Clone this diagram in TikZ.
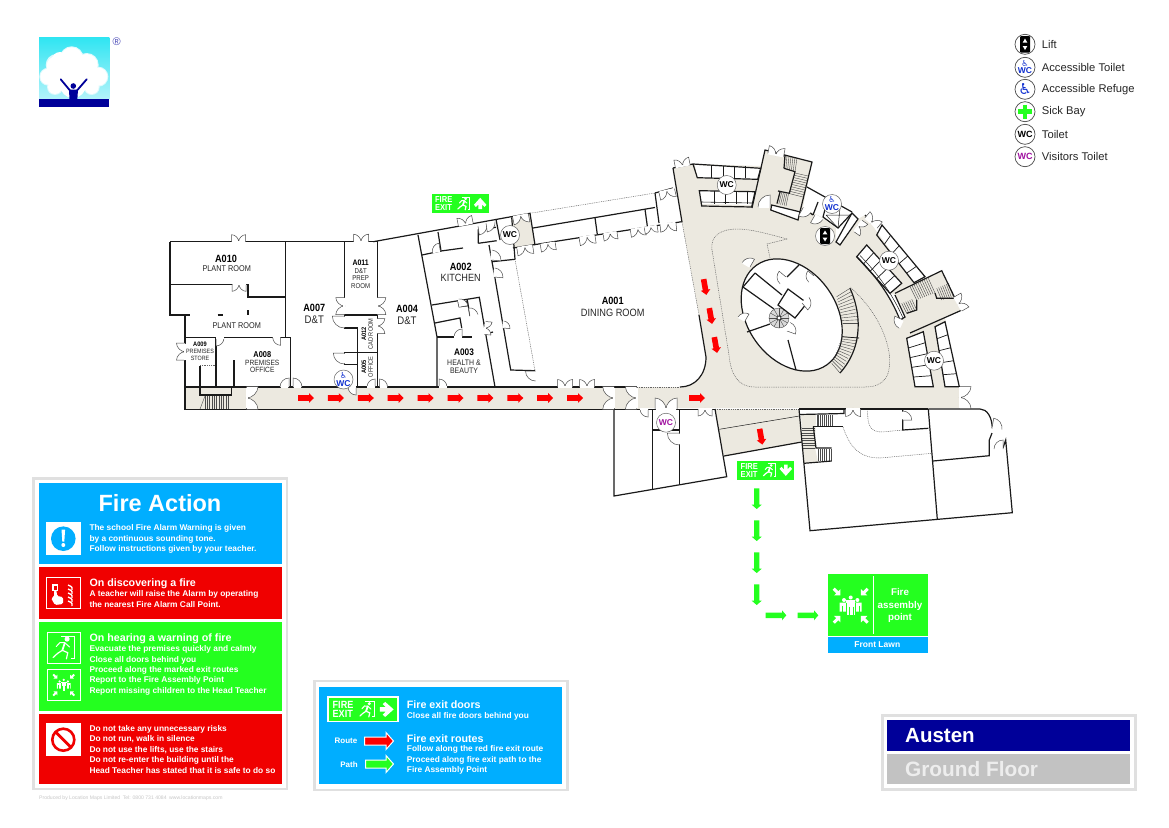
\documentclass[tikz,border=0pt]{standalone}
\usepackage{fontspec}
\usetikzlibrary{calc}
\setmainfont{Liberation Sans}
\newfontfamily\cnd[FakeStretch=0.87]{Liberation Sans}
\newfontfamily\djv{DejaVu Sans}
\definecolor{beige}{HTML}{ECE9E0}
\definecolor{sgreen}{HTML}{24FF1F}
\definecolor{sblue}{HTML}{00AEFF}
\definecolor{sred}{HTML}{F00000}
\definecolor{navy}{HTML}{000099}
\definecolor{wallc}{HTML}{1A1A1A}
\definecolor{framec}{HTML}{E0E0E0}
\definecolor{acblue}{HTML}{1030D0}
\definecolor{vispurple}{HTML}{A010A0}
\definecolor{skytop}{HTML}{2FE5F2}
\definecolor{skybot}{HTML}{B5F3FA}
\newcommand{\myfs}[1]{\fontsize{#1}{#1}\selectfont}
\tikzset{
 wall/.style={draw=wallc,line width=1.2pt,line join=miter},
 thinw/.style={draw=wallc,line width=.5pt},
 dotw/.style={draw=black!60,line width=.5pt,dash pattern=on .9pt off .9pt},
 doorln/.style={draw=black!70,line width=.5pt},
 rung/.style={draw=black!70,line width=.4pt},
 rmid/.style={font=\cnd\bfseries\myfs{10.5},text=black,inner sep=0pt},
 rmname/.style={font=\cnd\myfs{8.4},text=black!85,inner sep=0pt,align=center},
 rmbig/.style={font=\cnd\myfs{11},text=black!85,inner sep=0pt},
 leg/.style={font=\myfs{11.2},text=black!85,inner sep=0pt,anchor=west},
 pan/.style={font=\bfseries\myfs{8.35},text=white,inner sep=0pt,anchor=west},
 panh/.style={font=\bfseries\myfs{10.7},text=white,inner sep=0pt,anchor=west},
 badge/.style={circle,draw=black!60,fill=white,line width=.5pt,minimum size=19pt,inner sep=0pt},
 lgbadge/.style={circle,draw=black!70,fill=white,line width=.7pt,minimum size=20pt,inner sep=0pt},
}
\newcommand{\myDbl}[4]{\begin{scope}[shift={(#1,#2)},rotate=#3,scale=#4/7]
 \fill[white] (-7,0)--(-7,7) .. controls (-3.5,7) and (0,3.5) .. (0,0) .. controls (0,3.5) and (3.5,7) .. (7,7)--(7,0)--cycle;
 \draw[doorln] (-7,0)--(-7,7) .. controls (-3.5,7) and (0,3.5) .. (0,0) .. controls (0,3.5) and (3.5,7) .. (7,7)--(7,0);
 \draw[white,line width=1.7pt] (-6.5,0)--(6.5,0);
\end{scope}}
\newcommand{\mySgl}[4]{\begin{scope}[shift={(#1,#2)},rotate=#3,xscale=#4,yscale=abs(#4)]
 \fill[white] (0,0)--(0,1) .. controls (.55,1) and (1,.55) .. (1,0)--cycle;
 \draw[doorln] (0,0)--(0,1) .. controls (.55,1) and (1,.55) .. (1,0);
 \draw[white,line width=1.7pt] (.06,0)--(.94,0);
\end{scope}}
\newcommand{\myArr}[4]{\begin{scope}[shift={(#1,#2)},rotate=#3]
 \fill[#4] (-8,-2.8)--(3,-2.8)--(3,-4.8)--(8,0)--(3,4.8)--(3,2.8)--(-8,2.8)--cycle;
\end{scope}}
\newcommand{\myGrn}[3]{\begin{scope}[shift={(#1,#2)},rotate=#3]
 \fill[sgreen] (-10.3,-2.7)--(6,-2.7)--(6,-5)--(10.3,0)--(6,5)--(6,2.7)--(-10.3,2.7)--cycle;
\end{scope}}
\newcommand{\myStairs}[5]{\foreach \i in {0,...,#5}{\draw[rung] ($#1!{\i/#5}!#2$)--($#4!{\i/#5}!#3$);}}
\newcommand{\myRunner}[3]{\begin{scope}[shift={(#1,#2)},scale=#3]
 \draw[white,line width=.9pt] (-1.5,-6.8)--(6.3,-6.8)--(6.3,6.6)--(4.5,6.6);
 \fill[white] (2,-5) circle (1.5);
 \draw[white,line width=1.8pt,line cap=round] (.6,-2.6)--(-.8,1.6);
 \draw[white,line width=1pt,line cap=round] (-4.4,-.6)--(-2.2,-3)--(.6,-2.9)--(3.4,-.4);
 \draw[white,line width=1.2pt,line cap=round] (-.8,1.6)--(-3.6,3.4)--(-6.2,5.8) (-.8,1.6)--(2.4,3)--(1.6,6.6);
\end{scope}}
\newcommand{\myWArr}[4]{\begin{scope}[shift={(#1,#2)},rotate=#3,scale=#4]
 \fill[white] (-6,-1.9)--(-.9,-1.9)--(-3.6,-4.6)--(-1.4,-6.6)--(6,0)--(-1.4,6.6)--(-3.6,4.6)--(-.9,1.9)--(-6,1.9)--cycle;
\end{scope}}
\newcommand{\myExit}[6]{\begin{scope}[shift={(#1,#2)},scale=#4]
 \fill[sgreen] (0,0) rectangle (57,19);
 \node[font=\cnd\bfseries\myfs{8.7},text=white,inner sep=0pt,anchor=west,transform shape] (#5) at (3.2,5.6) {FIRE};
 \node[font=\cnd\bfseries\myfs{8.7},text=white,inner sep=0pt,anchor=west,transform shape] (#6) at (3.2,13.4) {EXIT};
 \myRunner{32}{9.5}{.95}
 \myWArr{48.5}{9.5}{#3}{.95}
\end{scope}}
\newcommand{\myAssem}[3]{\begin{scope}[shift={(#1,#2)},scale=#3]
 \foreach \a in {45,135,225,315}{\begin{scope}[rotate=\a]
  \fill[white] (14.5,0)--(19,-4.5)--(19,-1.5)--(24,-1.5)--(24,1.5)--(19,1.5)--(19,4.5)--cycle;
 \end{scope}}
 \fill[white] (-6.7,-5.7) circle (2) (6.7,-5.7) circle (2) (0,-8.2) circle (2);
 \fill[white] (-11,-3)--(-2.5,-3)--(-2.5,6)--(-11,6)--cycle (2.5,-3)--(11,-3)--(11,6)--(2.5,6)--cycle;
 \fill[white] (-4.6,-5.4) rectangle (4.6,9.5);
 \draw[sgreen,line width=.4pt] (-4.6,-3)--(-4.6,9.5) (4.6,-3)--(4.6,9.5) (-2,1)--(-2,9.5) (2,1)--(2,9.5) (-8.5,0)--(-8.5,6) (8.5,0)--(8.5,6);
\end{scope}}
\newcommand{\myAcc}[5]{\node[#5] (#1) at (#2,#3) {};
 \node[text=acblue,font=\djv\myfs{8},inner sep=0pt] (#1w) at (#2,#3-4.2) {♿};
 \node[text=acblue,font=\bfseries\myfs{8.5},inner sep=0pt] (#1t) at (#2,#3+3.6) {WC};}
\begin{document}
\begin{tikzpicture}[x=1pt,y=-1pt]
\useasboundingbox (0,0) rectangle (1169,827);
\fill[white] (0,0) rectangle (1169,827);

% ---------- logo
\shade[top color=skytop,bottom color=skybot] (39,37.3) rectangle (109.3,99.5);
\fill[navy] (39,99.3) rectangle (109.3,107.3);
\fill[white!55!skybot] (71.7,58.3) circle (12) (56.7,65) circle (11) (86.7,65) circle (12) (48.3,76.7) circle (9) (98.3,76.7) circle (10) (63,73) circle (13) (80,73) circle (14) (55,87) circle (8) (91.7,87) circle (8);
\fill[white] (71.7,58.3) circle (11) (60,60) circle (8) (56.7,66) circle (10) (86.7,65) circle (11) (48.3,76.7) circle (8) (98.3,76.7) circle (9) (63,73) circle (12) (80,73) circle (13) (55,87) circle (7) (91.7,87) circle (7) (73,85) circle (13);
\fill[navy] (73.3,86) circle (2.8);
\draw[navy,line width=1.8pt,line cap=round] (60.7,79.3)--(70,90.5) (86.7,79.3)--(77,90.5);
\fill[navy] (69,89.5)--(78,89.5)--(77.3,100)--(69.5,100)--cycle;
\node[font=\myfs{11},text=navy!70!white,inner sep=0pt] (regmark) at (116.7,41.5) {®};

% ---------- beige floors
\fill[beige] (185,387) rectangle (640,409);
\fill[beige] (682,222)--(673,168)--(693,164)--(761,166)--(765,150)--(812,162)--(807,187)--(803,208)--(822,217)--(836,228)--(836,242)--(840,245)--(858,219)--(865,215)--(877,232)--(914,283)--(942,271)--(955,298)--(962,310)--(945,318)--(959,387)--(960,408)--(637,408)--(637,387)--(680,387) .. controls (695,387) and (706,375) .. (706,357)--(699,315)--cycle;
\fill[beige] (512,217)--(530,213.3)--(535,245)--(513,248)--cycle;
\fill[beige] (715,409)--(799,409)--(801.7,442.3)--(724,456)--cycle;
\fill[beige] (801,415)--(816,415)--(815,448)--(818,461.7)--(804,463.3)--cycle;

% ---------- white toilets and rooms on the beige
\fill[white] (695,165)--(760.7,168.3)--(757.7,179.3)--(697.3,177.7)--cycle;
\fill[white] (699.3,190.7)--(755,191.7)--(751.7,205)--(701.7,204)--cycle;
\fill[white] (866.7,245)--(901.7,283.3)--(890,293.3)--(856.7,256.7)--cycle;
\fill[white] (895,295)--(905,317)--(900,320) .. controls (892,300) and (880,280) .. (856.7,256.7)--(890,293)--cycle;
\fill[white] (906.7,338.3)--(923.3,331.7)--(933.3,386.7)--(915,386.7)--cycle;
\fill[white] (935,326.7)--(945,321.7)--(959.3,386.7)--(945,386.7)--cycle;
\fill[white] (771.7,205)--(799.3,211.7)--(797.3,220)--(770.7,210)--cycle;
\fill[white] (807,187)--(852,212)--(858,219)--(840,245)--(836,242)--(836,228)--(822,217)--(803,208)--cycle;
\begin{scope}[shift={(791.7,315)},rotate=-55]
 \fill[white] (0,0) ellipse [x radius=61,y radius=44.5];
 \draw[wall] (0,0) ellipse [x radius=61,y radius=44.5];
\end{scope}

% ---------- stairs
\foreach \i in {0,...,10}{\draw[rung] ({205+\i*2.3},396)--({205+\i*2.3},409);}
\draw[rung] (205,396)--(200,409);
\myStairs{(785,155)}{(797,158)}{(795,171.7)}{(784,168.3)}{6}
\myStairs{(795,173)}{(789,193.5)}{(803,197)}{(808,176)}{9}
\myStairs{(780,192)}{(788.5,194)}{(786,206)}{(777,203.5)}{5}
\myStairs{(910,286.7)}{(928.3,278.3)}{(935,293)}{(916.7,300)}{9}
\myStairs{(936.7,288.3)}{(948.3,283.3)}{(953.3,296.7)}{(941.7,300)}{6}
\myStairs{(901.7,303.3)}{(911.7,299.3)}{(916.7,310)}{(906.7,313.3)}{5}
\myStairs{(836.7,296.7)}{(842.7,323.3)}{(859,323.3)}{(850,288.3)}{10}
\myStairs{(842,336.7)}{(831.7,363.3)}{(840,373)}{(859,338)}{12}
\myStairs{(816.7,415)}{(831.7,415)}{(831.7,426)}{(816.7,426)}{8}
\myStairs{(802,428)}{(802,448)}{(815,448)}{(815,428)}{8}
\myStairs{(818,449)}{(831,449)}{(831,461)}{(818,461)}{6}
\fill[white!85!black] (779,318) circle (10);
\draw[rung] (779,318) circle (10);
\foreach \a in {0,30,...,330}{\draw[rung] (779,318)--++(\a:10);}
\fill[white] (779,318) circle (2);
\draw[wall,line width=.7pt] (779,318) circle (2);

% ---------- dotted
\draw[dotw] (200,365.7)--(216,365.7);
\draw[dotw] (530,213.3)--(655,193);
\draw[dotw] (515,259.3)--(535,370.7);
\draw[dotw] (682,222)--(699,315);
\draw[dotw] (637,387)--(680,387);
\draw[dotw] (715,409)--(799,409);
\draw[dotw] (787,239)--(767,244)--(770,258);
\draw[dotw] (787,239) .. controls (765,233) and (750,229) .. (737,229) .. controls (722,229) and (710,235) .. (712,250) -- (729,355) .. controls (731,375) and (738,387) .. (755,387) -- (865,387) .. controls (885,387) and (892,375) .. (889,352) .. controls (884,325) and (868,303) .. (850,287);
\draw[dotw] (843,427) .. controls (850,448) and (860,458) .. (880,458) -- (931.7,453.3);
\draw[dotw] (867.7,409) .. controls (867,425) and (870,432) .. (882,432) -- (902.7,430);

% ---------- walls: west wing
\draw[wall] (170,241.7)--(377.3,241.7)--(377.3,387);
\draw[wall] (373.3,241.7)--(530,213.3)--(535,245);
\draw[wall] (170,241.7)--(170,315)--(185,315)--(185,409.3)--(715,409.3);
\draw[wall] (185,387)--(637,387);
\draw[wall] (170,284.3)--(248,284.3)--(248,297)--(285.7,297);
\draw[wall] (285.7,241.7)--(285.7,337.3);
\draw[wall] (185,337.3)--(290.7,337.3)--(290.7,387);
\draw[wall] (185,315)--(190,315) (217.5,315)--(222.7,315) (248,310)--(248,315);
\draw[wall] (344.3,241.7)--(344.3,328)--(357.3,328)--(357.3,387);
\draw[wall] (344.3,315)--(377.3,315);
\draw[wall] (344.3,352.7)--(377.3,352.7);
\draw[wall] (344.3,352.7)--(344.3,364.3)--(357.3,364.3);
\draw[wall] (216,337.3)--(216,387) (234,360)--(234,387);
\draw[wall] (200,366)--(200,395)--(231.7,395)--(231.7,387);
\draw[wall] (246.7,387)--(246.7,409);
% kitchen
\draw[wall] (418,235)--(437,337)--(437,387);
\draw[wall] (438,232)--(441,251)--(463,248);
\draw[wall] (422,255)--(441,251);
\draw[wall] (432,305)--(479.3,297.3)--(495,387);
\draw[wall] (437,337)--(472,337);
\draw[wall] (435,323)--(460,318)--(461.7,328);
\draw[wall,line width=.7pt] (458,302)--(466.7,301)--(467.5,306)--(459,307)--cycle;
\draw[wall] (467.3,300)--(470,316);
\draw[wall] (484,322)--(486,334)--(493,332);
\draw[wall] (495,278.3)--(510.7,370)--(535,370.7);
\draw[wall] (492,261.7)--(515,259.3);
\draw[wall] (489,245)--(492,261.7)--(495,278.3);
\draw[wall] (478.3,243.3)--(496.7,240.7);
\draw[wall] (478.3,243.3)--(478.3,230)--(496,227.3);
\draw[wall] (496,219.3)--(500,240);
\draw[wall] (511.7,217.3)--(515,259.3);
\draw[wall] (513,248)--(681.7,221.7);
\draw[wall] (533,228)--(655,207.5);
\draw[wall] (595,217.7)--(597.3,234.3) (645,209.3)--(647.3,226);
\draw[wall] (655,193)--(659,223);
\draw[wall] (655,193)--(673,188);
\draw[wall] (673,168)--(682,222);
\draw[wall] (699,315)--(706,357) .. controls (706,375) and (695,387) .. (680,387);
\draw[wall] (614,387)--(614,496)--(726.7,476.7)--(715,409);
\draw[wall] (636.7,387)--(636.7,409);
\draw[wall] (652.3,409)--(652.3,489) (679.3,409)--(679.3,484.3) (652.3,430)--(679.3,430);
% exit passage
\draw[thinw] (719.3,429.3)--(799.3,416);
\draw[wall] (724,456)--(801.7,442);
% south-east block
\draw[wall] (799,409)--(928.3,409);
\draw[wall] (799.5,414.5)--(844,413.5)--(844,409);
\draw[wall] (960,408)--(960,387);
\draw[wall] (799,409)--(810,530.7)--(1012.3,512.7)--(1005.7,440)--(1003,448);
\draw[wall] (928.3,409)--(980,409) .. controls (987,409) and (992,417) .. (992.3,428.3);
\draw[wall] (992,433)--(989.3,440)--(989.3,455.7)--(933,461);
\draw[wall] (928.3,409)--(937.3,519.3);
\draw[wall] (813.3,426.7)--(842.7,426.7);
\draw[wall] (813.3,426.7)--(816,448)--(831.7,448);
\draw[wall] (804,463.3)--(831.7,461);
\draw[wall] (902.7,409)--(902.7,430)--(928.3,428.3);
% NW toilets
\draw[wall] (673,168)--(693,164)--(760.7,168.3)--(757.7,179.3)--(697.3,177.7)--(693,164);
\draw[wall] (699.3,190.7)--(755,191.7)--(751.7,207)--(701.7,206)--cycle;
\draw[wall,line width=.6pt] (700.8,202)--(752,203);
\foreach \x in {711.7,723.3,734,745}{\draw[wall,line width=.7pt] (\x,165.5)--(\x,178);}
\foreach \x in {714,725,736,747}{\draw[wall,line width=.7pt] (\x,191)--(\x,204);}
% stair block N
\draw[wall] (752,208)--(765,150)--(812,162)--(798,220)--(770.7,210)--(771.7,205)--(799.3,211.7);
\draw[wall] (784,168.3)--(795,171.7)--(789.3,193.3)--(778,191);
\draw[wall] (785,155)--(784,168.3);
\draw[wall] (780,192)--(777,203.5);
% lift wedge area
\draw[wall] (807,187)--(852,212);
\draw[wall] (852,213)--(858,219)--(840,245)--(836,242)--cycle;
\draw[wall] (818,202)--(813,215) (803,208)--(813,215);
\draw[wall] (826,205.7)--(823,217)--(838,228)--(851,214);
\draw[thinw] (826,215)--(850,215) (826,215)--(838,228) (840,208)--(838,228);
% NE toilets
\draw[wall] (865,215)--(872,222);
\draw[wall] (882,225)--(925,276.7)--(914,282.7)--(876.7,235)--cycle;
\foreach \a in {.2,.4,.6,.8}{\draw[wall,line width=.7pt] ($(882,225)!\a!(925,276.7)$)--($(876.7,235)!\a!(914,282.7)$);}
\draw[wall] (866.7,245)--(901.7,283.3)--(890,293.3)--(856.7,256.7)--cycle;
\foreach \a in {.2,.4,.6,.8}{\draw[wall,line width=.7pt] ($(866.7,245)!\a!(901.7,283.3)$)--($(856.7,256.7)!\a!(890,293.3)$);}
\draw[wall] (856.7,256.7) .. controls (880,280) and (892,300) .. (900,320)--(905,317)--(895,295);
\draw[thinw] (860,255.5) .. controls (882,278) and (894,298) .. (903,318);
% stair block E
\draw[wall] (895,293.3)--(941.7,270.7)--(955,298.3)--(962,310)--(910,333);
\draw[wall] (916.7,300)--(916.7,310)--(906.7,313.3);
\draw[wall] (935,293)--(936.7,298.3)--(955,298.3);
% SE toilets
\draw[wall] (906.7,338.3)--(923.3,331.7)--(933.3,386.7)--(915,386.7)--cycle;
\draw[wall] (935,326.7)--(945,321.7)--(959.3,386.7)--(945,386.7)--cycle;
\foreach \a in {.2,.4,.6,.8}{\draw[wall,line width=.7pt] ($(906.7,338.3)!\a!(915,386.7)$)--($(923.3,331.7)!\a!(933.3,386.7)$);
 \draw[wall,line width=.7pt] ($(935,326.7)!\a!(945,386.7)$)--($(945,321.7)!\a!(959.3,386.7)$);}
% central oval walls
\draw[wall] (743,287)--(774,309) (755,273)--(782,295) (755,273)--(743,287);
\draw[wall] (799,265)--(787,277);
\draw[wall] (788,289)--(807,303)--(795,318)--(778,305)--cycle;
\draw[wall] (747,332)--(770,324) (788,340)--(796,370);
\draw[wall] (850,288.3) .. controls (860,310) and (865,345) .. (840,373);
\draw[wall,line width=.7pt] (842,336.7)--(859,338);

% ---------- doors
\myDbl{238.7}{241.7}{180}{7}
\myDbl{239}{284.3}{0}{7}
\myDbl{361}{241.7}{180}{7.5}
\myDbl{344.3}{306}{-90}{8.5}
\myDbl{377.3}{306}{90}{8.5}
\myDbl{377.3}{326}{90}{7.5}
\mySgl{344.3}{316}{-90}{12}
\mySgl{344.3}{353}{-90}{11}
\mySgl{280.7}{337.3}{0}{-8}
\mySgl{216}{338}{0}{8}
\myDbl{185}{351.7}{-90}{8.5}
\mySgl{289}{387}{180}{9}
\mySgl{293}{387}{180}{-9}
\mySgl{356}{387}{0}{-8}
\mySgl{375}{387}{180}{8}
\mySgl{379.5}{387}{180}{-8}
\mySgl{439}{387}{180}{-8}
\myDbl{246.7}{398}{90}{11.3}
\myDbl{465.7}{224.3}{191}{7.5}
\mySgl{478}{226}{8}{9}
\mySgl{486}{223}{8}{9}
\mySgl{440.3}{251}{190}{8}
\mySgl{491}{260}{85}{10}
\mySgl{494}{277}{85}{9}
\mySgl{503}{328}{85}{7}
\myDbl{485}{328}{85}{6.5}
\mySgl{460}{307}{100}{8}
\mySgl{470}{316}{190}{-8}
\mySgl{462}{337}{180}{8}
\mySgl{535.5}{371}{-90}{10}
\myDbl{565}{387}{180}{7.5}
\myDbl{587}{387}{180}{7.5}
\myDbl{614}{398}{-90}{11.3}
\myDbl{636.7}{398}{-90}{11.3}
\myDbl{666}{409}{180}{11}
\mySgl{648}{409}{0}{-8}
\myDbl{705}{409}{0}{7}
\myDbl{853}{409}{0}{7.5}
\myDbl{524.7}{246.7}{9}{8}
\myDbl{547.7}{243.5}{9}{7.5}
\myDbl{587}{236.5}{9}{8}
\myDbl{610}{233}{9}{7}
\myDbl{637.7}{228.7}{9}{7.5}
\myDbl{650.7}{226.7}{9}{6.5}
\myDbl{668}{223.5}{5}{8}
\myDbl{666.7}{190.5}{13}{8}
\myDbl{520.5}{215.5}{11}{8}
\myDbl{682.7}{166}{191}{7.5}
\mySgl{770}{207}{180}{12}
\myDbl{775.7}{155}{169}{8}
\mySgl{803}{208}{-30}{9}
\mySgl{815}{215}{-30}{9}
\myDbl{858}{226}{55}{7}
\myDbl{871}{223}{140}{8}
\mySgl{903}{320}{-115}{9}
\myDbl{958}{304}{120}{8}
\myDbl{960}{397.5}{90}{11}
\mySgl{750}{267}{150}{9}
\mySgl{786}{277}{-130}{9}
\mySgl{814}{276}{-130}{8}
\mySgl{802}{303}{40}{9}
\mySgl{745}{321}{150}{8}
\mySgl{787}{331}{70}{9}
\mySgl{679.3}{433}{-90}{12}
\mySgl{902.7}{420}{90}{9}
\mySgl{992}{428}{170}{-10}
\mySgl{1003}{449}{180}{9}

% ---------- badges
\node[badge,font=\bfseries\myfs{8.5}] (wc1) at (510,235) {WC};
\node[badge,font=\bfseries\myfs{8.5}] (wc2) at (726.7,185) {WC};
\node[badge,font=\bfseries\myfs{8.5}] (wc3) at (889,260.7) {WC};
\node[badge,font=\bfseries\myfs{8.5}] (wc4) at (934,360.7) {WC};
\node[badge,font=\bfseries\myfs{8.5},text=vispurple] (wc5) at (666,422.7) {WC};
\myAcc{awc1}{343.5}{379.5}{}{badge}
\myAcc{awc2}{832}{204}{}{badge}
\node[badge] (lift1) at (825,236) {};
\fill[black,rounded corners=1pt] (820,228)rectangle(830,244);
\fill[white] (825,230.5)--(827.3,234.3)--(822.7,234.3)--cycle (825,241.5)--(827.3,237.7)--(822.7,237.7)--cycle;

% ---------- room labels
\node[rmid] (a010) at (226,259) {A010};
\node[rmname] (a010n) at (226.7,269) {PLANT ROOM};
\node[rmname] (plant2) at (236.7,326) {PLANT ROOM};
\node[rmid] (a007) at (314.3,308.3) {A007};
\node[rmbig] (a007n) at (314.3,320) {D\&T};
\node[rmid,font=\cnd\bfseries\myfs{8}] (a011) at (360.7,262.7) {A011};
\node[rmname,font=\cnd\myfs{7}] (a011a) at (360.7,270.7) {D\&T};
\node[rmname,font=\cnd\myfs{7}] (a011b) at (360.7,278.3) {PREP};
\node[rmname,font=\cnd\myfs{7}] (a011c) at (360.7,285.7) {ROOM};
\node[rmid] (a004) at (407,309.3) {A004};
\node[rmbig] (a004n) at (407,320.7) {D\&T};
\node[rmid,font=\cnd\bfseries\myfs{6.5},rotate=90] (a012) at (364,334) {A012};
\node[rmname,font=\cnd\myfs{6.5},rotate=90] (a012n) at (370.7,334) {CAD ROOM};
\node[rmid,font=\cnd\bfseries\myfs{6.5},rotate=90] (a005) at (364,366.7) {A005};
\node[rmname,font=\cnd\myfs{6.5},rotate=90] (a005n) at (370.7,366.7) {OFFICE};
\node[rmid,font=\cnd\bfseries\myfs{8.5}] (a008) at (262.3,354.3) {A008};
\node[rmname,font=\cnd\myfs{7.6}] (a008a) at (262.3,363) {PREMISES};
\node[rmname,font=\cnd\myfs{7.6}] (a008b) at (262.3,370) {OFFICE};
\node[rmid,font=\cnd\bfseries\myfs{6.5}] (a009) at (200,344.3) {A009};
\node[rmname,font=\cnd\myfs{6.2}] (a009a) at (200,351.3) {PREMISES};
\node[rmname,font=\cnd\myfs{6.2}] (a009b) at (200,358) {STORE};
\node[rmid] (a002) at (460.7,266.7) {A002};
\node[rmname,font=\cnd\myfs{10.5}] (a002n) at (460.7,278) {KITCHEN};
\node[rmid,font=\cnd\bfseries\myfs{9.5}] (a003) at (464,352.7) {A003};
\node[rmname,font=\cnd\myfs{8}] (a003a) at (464,362.7) {HEALTH \&};
\node[rmname,font=\cnd\myfs{8}] (a003b) at (464,370.7) {BEAUTY};
\node[rmid] (a001) at (612.7,301.3) {A001};
\node[rmname,font=\cnd\myfs{10.6}] (a001n) at (612.7,312.7) {DINING ROOM};

% ---------- arrows
\foreach \x in {306,335.9,365.8,395.7,425.6,455.5,485.4,515.3,545.2,575.1}{\myArr{\x}{398}{0}{red}}
\myArr{697}{398}{0}{red}
\myArr{705}{287}{-80}{red}
\myArr{710.7}{316}{-80}{red}
\myArr{715.7}{345}{-80}{red}
\myArr{761}{436.7}{-80}{red}
\myGrn{756.7}{498.7}{-90}
\myGrn{756.7}{530.7}{-90}
\myGrn{756.7}{562.7}{-90}
\myGrn{756.7}{594.7}{-90}
\myGrn{776}{615.3}{0}
\myGrn{808}{615.3}{0}

% ---------- fire exit signs
\myExit{431.7}{194}{90}{1}{fe1a}{fe1b}
\myExit{737.3}{460.7}{-90}{1}{fe2a}{fe2b}

% ---------- assembly point
\fill[sgreen] (828.3,574.3) rectangle (927.7,635.7);
\fill[sblue] (828.3,636.7) rectangle (927.7,653.3);
\draw[white,line width=.8pt] (873.3,576)--(873.3,634);
\myAssem{850.7}{605.7}{1}
\node[font=\bfseries\myfs{9.8},text=white,inner sep=0pt] (ap1) at (900,592.3) {Fire};
\node[font=\bfseries\myfs{9.8},text=white,inner sep=0pt] (ap2) at (900,605.7) {assembly};
\node[font=\bfseries\myfs{9.8},text=white,inner sep=0pt] (ap3) at (900,618.3) {point};
\node[font=\bfseries\myfs{8.5},text=white,inner sep=0pt] (ap4) at (877.3,645) {Front Lawn};

% ---------- key top right
\node[lgbadge] (k1) at (1025,44.3) {};
\fill[black,rounded corners=1pt] (1020,36)rectangle(1030,52.6);
\fill[white] (1025,38.5)--(1027.3,42.6)--(1022.7,42.6)--cycle (1025,50.1)--(1027.3,46)--(1022.7,46)--cycle;
\myAcc{k2}{1025}{67.3}{}{lgbadge}
\node[lgbadge,text=acblue,font=\djv\myfs{15}] (k3) at (1025,89.3) {♿};
\node[lgbadge] (k4) at (1025,111.7) {};
\draw[sgreen,line width=4.5pt] (1018,111.7)--(1032,111.7) (1025,104.7)--(1025,118.7);
\node[lgbadge,font=\bfseries\myfs{9}] (k5) at (1025,134.3) {WC};
\node[lgbadge,font=\bfseries\myfs{9},text=vispurple] (k6) at (1025,156.7) {WC};
\node[leg] (kt1) at (1041.7,44.5) {Lift};
\node[leg] (kt2) at (1041.7,67.3) {Accessible Toilet};
\node[leg] (kt3) at (1041.7,89.5) {Accessible Refuge};
\node[leg] (kt4) at (1041.7,112) {Sick Bay};
\node[leg] (kt5) at (1041.7,134.5) {Toilet};
\node[leg] (kt6) at (1041.7,156.9) {Visitors Toilet};

% ---------- Fire Action panel
\draw[framec,line width=2.5pt] (33.5,478.5) rectangle (287,789);
\fill[sblue] (39,483.3) rectangle (281.7,564.3);
\fill[sred] (39,567.3) rectangle (281.7,619);
\fill[sgreen] (39,622.3) rectangle (281.7,710.7);
\fill[sred] (39,714.3) rectangle (281.7,784.3);
\node[font=\bfseries\myfs{23.5},text=white,inner sep=0pt] (fa) at (160,503.5) {Fire Action};
\node[pan] (t1) at (89.3,528.3) {The school Fire Alarm Warning is given};
\node[pan] (t2) at (89.3,539) {by a continuous sounding tone.};
\node[pan] (t3) at (89.3,549.3) {Follow instructions given by your teacher.};
\node[panh] (h1) at (89.3,583.3) {On discovering a fire};
\node[pan] (t4) at (89.3,594.3) {A teacher will raise the Alarm by operating};
\node[pan] (t5) at (89.3,605) {the nearest Fire Alarm Call Point.};
\node[panh] (h2) at (89.3,638.3) {On hearing a warning of fire};
\node[pan] (t6) at (89.3,649.7) {Evacuate the premises quickly and calmly};
\node[pan] (t7) at (89.3,660) {Close all doors behind you};
\node[pan] (t8) at (89.3,670.3) {Proceed along the marked exit routes};
\node[pan] (t9) at (89.3,680.7) {Report to the Fire Assembly Point};
\node[pan] (t10) at (89.3,691) {Report missing children to the Head Teacher};
\node[pan] (t11) at (89.3,729) {Do not take any unnecessary risks};
\node[pan] (t12) at (89.3,739.3) {Do not run, walk in silence};
\node[pan] (t13) at (89.3,749.7) {Do not use the lifts, use the stairs};
\node[pan] (t14) at (89.3,760) {Do not re-enter the building until the};
\node[pan] (t15) at (89.3,770.3) {Head Teacher has stated that it is safe to do so};
% icons
\fill[white] (46,522.3) rectangle (81,555);
\fill[sblue] (63.3,538.7) circle (12.3);
\fill[white] (61.5,529.5)--(65.1,529.5)--(64.3,541.5)--(62.3,541.5)--cycle (63.3,545) circle (2);
\draw[white,line width=1pt] (46.5,577.8) rectangle (80.5,608.8);
\fill[white] (52,584) rectangle (58,591);
\fill[sred] (53.5,585.5) rectangle (56.5,589.5);
\fill[white,rounded corners=1.5pt] (54,590)--(56.5,590)--(57,596)--(63,597)--(63,604)--(55,605)--(51,598)--(54,597)--cycle;
\foreach \y in {585,589,593,597,601}{\draw[white,line width=1.3pt] (68,\y) .. controls (72,\y+1.5) and (73,\y+3) .. (72,\y+5);}
\draw[white,line width=1pt] (47.2,632.2) rectangle (80.2,663);
\myRunner{63.7}{647.6}{1.7}
\draw[white,line width=1pt] (47.2,669.5) rectangle (80.2,700.3);
\myAssem{63.7}{685}{.62}
\fill[white] (46,723.3) rectangle (81,755.7);
\draw[sred,line width=2.6pt] (63.3,739.7) circle (11);
\draw[sred,line width=2.8pt] (55.5,731.9)--(71.1,747.5);

\node[font=\myfs{5.1},text=black!22,inner sep=0pt,anchor=west] (foot) at (39,798) {Produced by Location Maps Limited\enspace Tel: 0800 731 4084\enspace www.locationmaps.com};

% ---------- routes panel
\draw[framec,line width=2.5pt] (314.5,681) rectangle (567.5,790);
\fill[sblue] (319.3,687.3) rectangle (561.7,784.3);
\draw[white,line width=1.6pt] (327.8,697.2) rectangle (398,721.4);
\myExit{328.6}{698}{0}{1.2}{fe3a}{fe3b}
\node[panh] (r1) at (406.7,705) {Fire exit doors};
\node[pan] (r2) at (406.7,716) {Close all fire doors behind you};
\node[panh] (r3) at (406.7,738.3) {Fire exit routes};
\node[pan] (r4) at (406.7,749.7) {Follow along the red fire exit route};
\node[pan] (r5) at (406.7,760) {Proceed along fire exit path to the};
\node[pan] (r6) at (406.7,770.7) {Fire Assembly Point};
\node[font=\bfseries\myfs{8},text=white,inner sep=0pt] (r7) at (346,741) {Route};
\node[font=\bfseries\myfs{8},text=white,inner sep=0pt] (r8) at (349,764.3) {Path};
\filldraw[fill=red,draw=white,line width=1pt,line join=miter] (364.5,737)--(386,737)--(386,732.5)--(393.5,741)--(386,749.5)--(386,745)--(364.5,745)--cycle;
\filldraw[fill=sgreen,draw=white,line width=1pt,line join=miter] (365.5,760)--(386,760)--(386,755.5)--(393.5,764)--(386,772.5)--(386,768)--(365.5,768)--cycle;

% ---------- title block
\draw[framec,line width=3pt] (882.5,715.5) rectangle (1135.2,789.2);
\fill[navy] (887.3,720) rectangle (1130,750.7);
\fill[black!24] (887.3,754) rectangle (1130,784);
\node[font=\bfseries\myfs{20.5},text=white,inner sep=0pt,anchor=west] (b1) at (905,735.7) {Austen};
\node[font=\bfseries\myfs{20.8},text=white!93!black,inner sep=0pt,anchor=west] (b2) at (905,769) {Ground Floor};
\end{tikzpicture}
\end{document}
